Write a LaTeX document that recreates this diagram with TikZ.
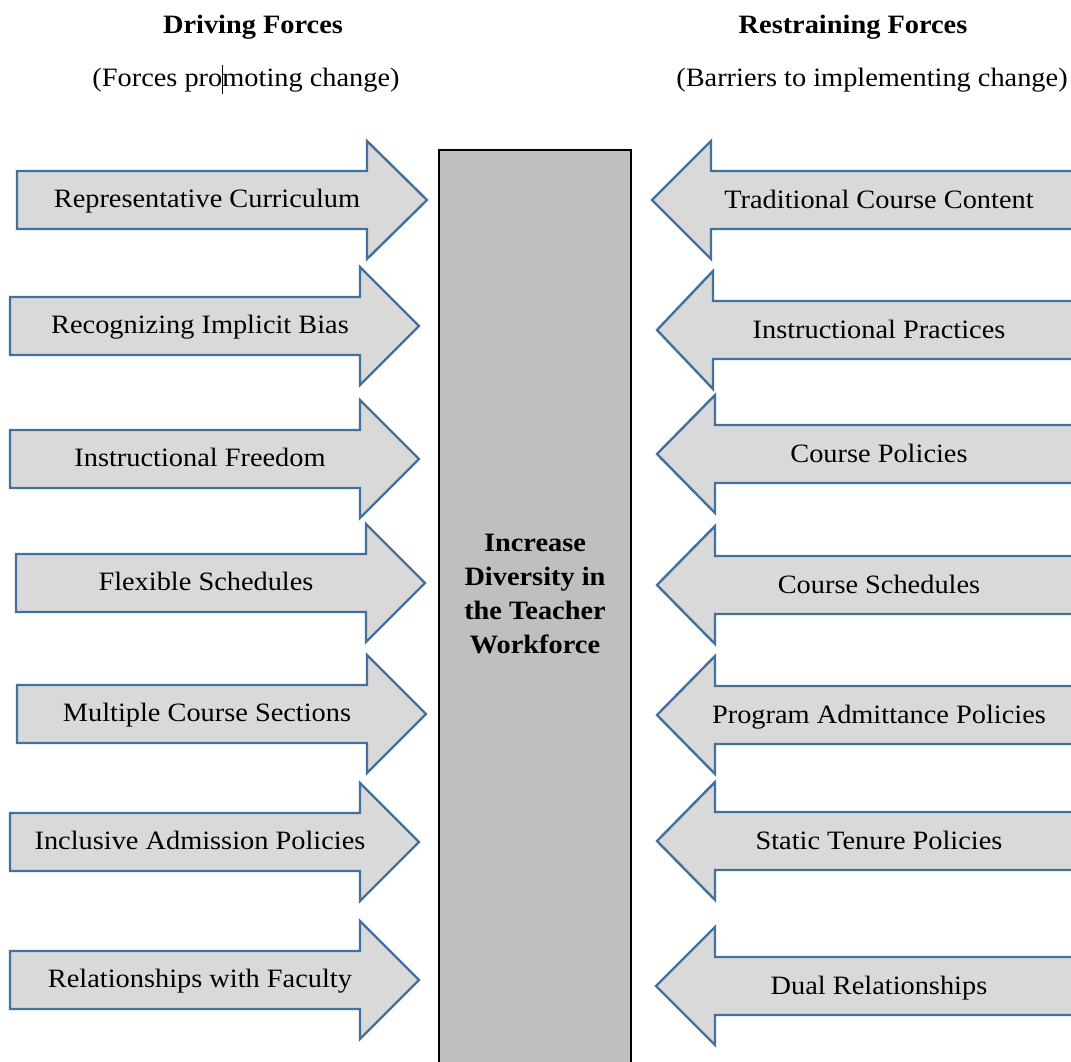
\documentclass[tikz,border=0pt]{standalone}
\usepackage{fontspec}
\setmainfont{Liberation Serif}[FakeStretch=1.07]
\definecolor{arrowline}{RGB}{65,113,156}
\definecolor{arrowfill}{RGB}{217,217,217}
\definecolor{boxfill}{RGB}{191,191,191}
\begin{document}
\begin{tikzpicture}[x=1pt,y=-1pt,
  forcearrow/.style={draw=arrowline, fill=arrowfill, line width=2.4pt, line join=miter},
  goalbox/.style={draw=black, fill=boxfill, line width=2.6pt},
  forcelabel/.style={anchor=base, inner sep=0pt, font=\fontsize{26.5}{34}\selectfont},
  heading/.style={anchor=base, inner sep=0pt, font=\fontsize{26.5}{34}\selectfont\bfseries},
  goallabel/.style={inner sep=0pt, align=center, font=\fontsize{26.5}{34}\selectfont\bfseries}
  ]
\useasboundingbox (0,0) rectangle (1071,1061);
\clip (0,0) rectangle (1071,1061);

% column headings
\node[heading] (drivingtitle) at (253,33) {Driving Forces};
\node[forcelabel] (drivingsub) at (246,86) {(Forces pro\rlap{\rule[-8pt]{0.9pt}{29pt}}moting change)};
\node[heading] (restrainingtitle) at (853,33) {Restraining Forces};
\node[forcelabel] (restrainingsub) at (872,86) {(Barriers to implementing change)};

% the goal in the middle
\draw[goalbox] (439,150) rectangle (631,1080);
\node[goallabel] (goal) at (535,594) {Increase\\Diversity in\\the Teacher\\Workforce};

% driving forces: tail x, head base x, tip x, centre y
\foreach \i/\lx/\bx/\tx/\cy/\txt in {
  1/17/367/427/200/Representative Curriculum,
  2/10/360/419/326/Recognizing Implicit Bias,
  3/10/360/419/459/Instructional Freedom,
  4/16/366/425/583/Flexible Schedules,
  5/17/367/426/714/Multiple Course Sections,
  6/10/360/419/842/Inclusive Admission Policies,
  7/10/360/419/980/Relationships with Faculty}
{
  \draw[forcearrow] (\lx,\cy-29) -- (\bx,\cy-29) -- (\bx,\cy-59) -- (\tx,\cy)
    -- (\bx,\cy+59) -- (\bx,\cy+29) -- (\lx,\cy+29) -- cycle;
  \node[forcelabel] (drive\i) at (\lx+190,\cy+7.5) {\txt};
}

% restraining forces: head base x, tip x, centre y
\foreach \i/\bx/\tx/\cy/\txt in {
  1/711/652/200/Traditional Course Content,
  2/713/657/330/Instructional Practices,
  3/715/657/454/Course Policies,
  4/715/657/585/Course Schedules,
  5/715/657/715/Program Admittance Policies,
  6/715/657/841/Static Tenure Policies,
  7/715/656/986/Dual Relationships}
{
  \draw[forcearrow] (1095,\cy-29) -- (\bx,\cy-29) -- (\bx,\cy-59) -- (\tx,\cy)
    -- (\bx,\cy+59) -- (\bx,\cy+29) -- (1095,\cy+29) -- cycle;
  \node[forcelabel] (restrain\i) at (879,\cy+8.5) {\txt};
}
\end{tikzpicture}
\end{document}
